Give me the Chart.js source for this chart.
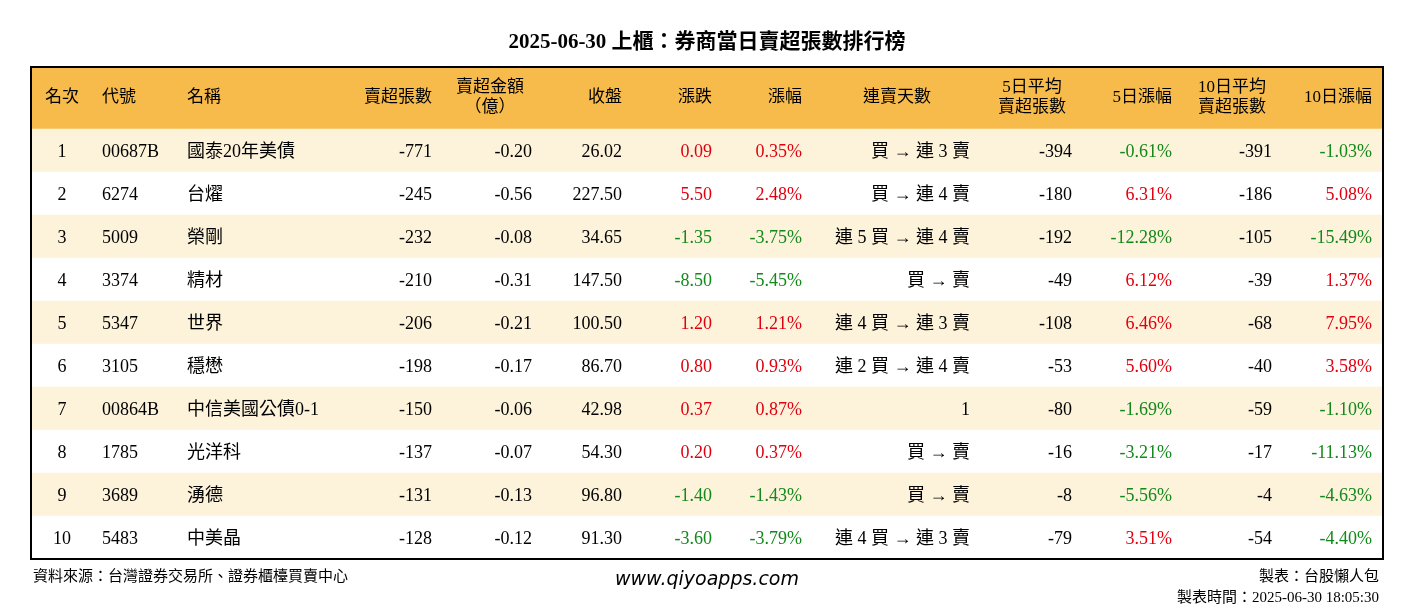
<!DOCTYPE html>
<html><head><meta charset="utf-8">
<script src="https://cdn.jsdelivr.net/npm/chart.js@4/dist/chart.umd.min.js"></script>
<style>html,body{margin:0;padding:0;background:#fff}#wrap{width:1414px;height:612px}</style>
</head><body><div id="wrap"><canvas id="c" width="1414" height="612"></canvas></div>
<script>
const title = '2025-06-30 上櫃：券商當日賣超張數排行榜';
const headers = ['名次','代號','名稱','賣超張數','賣超金額\n（億）','收盤','漲跌','漲幅','連賣天數','5日平均\n賣超張數','5日漲幅','10日平均\n賣超張數','10日漲幅'];
const ranks = [1,2,3,4,5,6,7,8,9,10];
const codes = ['00687B','6274','5009','3374','5347','3105','00864B','1785','3689','5483'];
const names = ['國泰20年美債','台燿','榮剛','精材','世界','穩懋','中信美國公債0-1','光洋科','湧德','中美晶'];
const netSell = [-771,-245,-232,-210,-206,-198,-150,-137,-131,-128];
const amount = ['-0.20','-0.56','-0.08','-0.31','-0.21','-0.17','-0.06','-0.07','-0.13','-0.12'];
const closePx = ['26.02','227.50','34.65','147.50','100.50','86.70','42.98','54.30','96.80','91.30'];
const change = ['0.09','5.50','-1.35','-8.50','1.20','0.80','0.37','0.20','-1.40','-3.60'];
const changePct = ['0.35%','2.48%','-3.75%','-5.45%','1.21%','0.93%','0.87%','0.37%','-1.43%','-3.79%'];
const streak = ['買 → 連 3 賣','買 → 連 4 賣','連 5 買 → 連 4 賣','買 → 賣','連 4 買 → 連 3 賣','連 2 買 → 連 4 賣','1','買 → 賣','買 → 賣','連 4 買 → 連 3 賣'];
const avg5 = [-394,-180,-192,-49,-108,-53,-80,-16,-8,-79];
const pct5 = ['-0.61%','6.31%','-12.28%','6.12%','6.46%','5.60%','-1.69%','-3.21%','-5.56%','3.51%'];
const avg10 = [-391,-186,-105,-39,-68,-40,-59,-17,-4,-54];
const pct10 = ['-1.03%','5.08%','-15.49%','1.37%','7.95%','3.58%','-1.10%','-11.13%','-4.63%','-4.40%'];

// column layout: [x, align]
const cols = [[62,'center'],[102,'left'],[187,'left'],[432,'right'],[532,'right'],[622,'right'],[712,'right'],[802,'right'],[970,'right'],[1072,'right'],[1172,'right'],[1272,'right'],[1372,'right']];
const hdrCols = [[62,'center'],[102,'left'],[187,'left'],[432,'right'],[490,'center'],[622,'right'],[712,'right'],[802,'right'],[897,'center'],[1032,'center'],[1172,'right'],[1232,'center'],[1372,'right']];
const RED = '#e0000f', GREEN = '#12891a';
const F = '"Liberation Serif","Noto Sans CJK TC",serif';
const T0 = 67, HDR = 62, ROWH = 43, L = 31, R = 1383;
const rowCenter = i => T0 + HDR + ROWH * (i + 0.5);

const tablePlugin = {
  id: 'table',
  beforeDatasetsDraw(chart) {
    const {ctx, scales: {x, y}} = chart;
    ctx.save();
    ctx.fillStyle = '#f6bb4b';
    ctx.fillRect(x.getPixelForValue(L), y.getPixelForValue(T0), x.getPixelForValue(R) - x.getPixelForValue(L), y.getPixelForValue(T0 + HDR) - y.getPixelForValue(T0));
    ctx.restore();
  },
  afterDatasetsDraw(chart) {
    const {ctx, scales: {x, y}} = chart;
    ctx.save();
    ctx.textBaseline = 'middle';
    ctx.fillStyle = '#000';
    ctx.font = 'bold 21px ' + F;
    ctx.textAlign = 'center';
    ctx.fillText(title, x.getPixelForValue(707), y.getPixelForValue(43));
    // header
    ctx.font = '17px ' + F;
    headers.forEach((h, j) => {
      const lines = h.split('\n');
      ctx.textAlign = hdrCols[j][1];
      lines.forEach((s, k) => {
        const yy = T0 + HDR / 2 + (k - (lines.length - 1) / 2) * 20;
        ctx.fillText(s, x.getPixelForValue(hdrCols[j][0]), y.getPixelForValue(yy));
      });
    });
    // rows
    ctx.font = '18px ' + F;
    const colorOf = v => parseFloat(v) < 0 ? GREEN : RED;
    ranks.forEach((r, i) => {
      const cells = [r, codes[i], names[i], netSell[i], amount[i], closePx[i], change[i], changePct[i], streak[i], avg5[i], pct5[i], avg10[i], pct10[i]];
      const colored = {6: change[i], 7: changePct[i], 10: pct5[i], 12: pct10[i]};
      cells.forEach((c, j) => {
        ctx.fillStyle = (j in colored) ? colorOf(colored[j]) : '#000';
        ctx.textAlign = cols[j][1];
        ctx.fillText(String(c), x.getPixelForValue(cols[j][0]), y.getPixelForValue(rowCenter(i) + 2));
      });
    });
    // border
    ctx.strokeStyle = '#000';
    ctx.lineWidth = 2;
    const bottom = T0 + HDR + ROWH * ranks.length;
    ctx.strokeRect(x.getPixelForValue(L), y.getPixelForValue(T0), x.getPixelForValue(R) - x.getPixelForValue(L), y.getPixelForValue(bottom) - y.getPixelForValue(T0));
    // footer
    ctx.fillStyle = '#000';
    ctx.font = '15px ' + F;
    ctx.textAlign = 'left';
    ctx.fillText('資料來源：台灣證券交易所、證券櫃檯買賣中心', x.getPixelForValue(33), y.getPixelForValue(577));
    ctx.textAlign = 'right';
    ctx.fillText('製表：台股懶人包', x.getPixelForValue(1379), y.getPixelForValue(577));
    ctx.fillText('製表時間：2025-06-30 18:05:30', x.getPixelForValue(1379), y.getPixelForValue(598));
    ctx.textAlign = 'center';
    ctx.font = 'italic 19px "DejaVu Sans",sans-serif';
    ctx.fillText('www.qiyoapps.com', x.getPixelForValue(707), y.getPixelForValue(580));
    ctx.restore();
  }
};

new Chart(document.getElementById('c'), {
  type: 'bar',
  data: {
    datasets: [{
      data: ranks.map((r, i) => ({x: [L, R], y: rowCenter(i)})),
      backgroundColor: ranks.map((r, i) => i % 2 === 0 ? '#fdf2da' : '#ffffff'),
      barThickness: ROWH,
      borderWidth: 0
    }]
  },
  options: {
    indexAxis: 'y',
    responsive: false,
    animation: false,
    layout: {padding: 0},
    plugins: {legend: {display: false}, tooltip: {enabled: false}},
    scales: {
      x: {type: 'linear', min: 0, max: 1414, display: false, offset: false},
      y: {type: 'linear', min: 0, max: 612, reverse: true, display: false, offset: false}
    }
  },
  plugins: [tablePlugin]
});
</script></body></html>
